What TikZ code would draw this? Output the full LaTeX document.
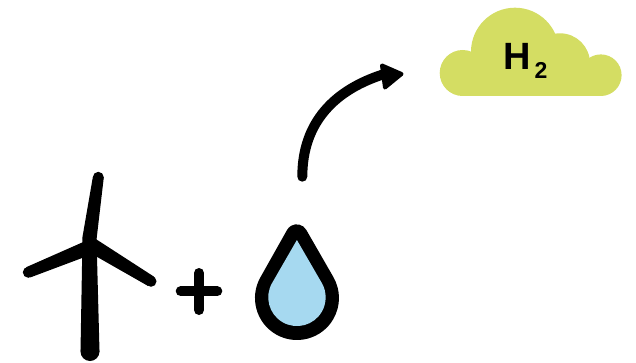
\documentclass[tikz,border=0pt]{standalone}
\usepackage{fontspec}
\setmainfont{Liberation Sans}
\definecolor{cloudgreen}{HTML}{D4DD63}
\definecolor{dropblue}{HTML}{A6D9F0}
\tikzset{
  ink/.style={fill=black,draw=none},
  cloudpart/.style={fill=cloudgreen,draw=none},
  plusbar/.style={draw=black,line width=10pt,line cap=round},
  flow/.style={draw=black,line width=10pt,line cap=round},
  flowhead/.style={fill=black,draw=black,line width=4pt,line join=round}
}
\begin{document}
\begin{tikzpicture}[x=1pt,y=1pt]
\useasboundingbox (0,0) rectangle (636,362);
% cloud
\fill[cloudpart] (462.7,289) circle[radius=23pt];
\fill[cloudpart] (600.8,286.8) circle[radius=20.8pt];
\fill[cloudpart] (515,310.3) circle[radius=44pt];
\fill[cloudpart] (560,298.7) circle[radius=30pt];
\fill[cloudpart] (462.7,266) rectangle (600.8,295);
\node[inner sep=0pt,anchor=base west] (htwo) at (503.5,292) {\fontsize{38}{38}\selectfont\bfseries H\kern3.5pt\raisebox{-9pt}{\fontsize{23}{23}\selectfont 2}};
% arrow
\coordinate (arrowstart) at (302.3,185.3);
\coordinate (arrowend) at (386,288.5);
\draw[flow] (arrowstart) .. controls (302.3,240) and (335,273) .. (arrowend);
\draw[flowhead] (382,296.5) -- (401.5,288) -- (385,274.5) -- cycle;
% turbine
\fill[ink] (82.3,124) -- (96.7,124) -- (103.8,184.7) -- (92.8,184.7) -- cycle;
\fill[ink] (98.3,184.7) circle[radius=5.5pt];
\fill[ink] (84,120.3) -- (84,104.7) -- (30.4,84.6) -- (26.2,94.8) -- cycle;
\fill[ink] (28.3,89.7) circle[radius=5.5pt];
\fill[ink] (95,123.5) -- (95,106.3) -- (148.1,76) -- (153.9,85.4) -- cycle;
\fill[ink] (151,80.7) circle[radius=5.5pt];
\fill[ink] (82.5,124) -- (96.5,124) -- (99.5,10.5) -- (80.5,10.5) -- cycle;
\fill[ink] (90,10.5) circle[radius=9.5pt];
% plus
\draw[plusbar] (180.7,70.7) -- (217.3,70.7);
\draw[plusbar] (199,89) -- (199,52);
% drop
\fill[ink] (260.6,85) arc[start angle=150,end angle=390,radius=42pt] -- (306.2,132.2) arc[start angle=30,end angle=150,radius=11pt] -- cycle;
\fill[dropblue] (272.1,79) arc[start angle=150,end angle=390,radius=28.7pt] -- (296.9,122) -- cycle;
\end{tikzpicture}
\end{document}
